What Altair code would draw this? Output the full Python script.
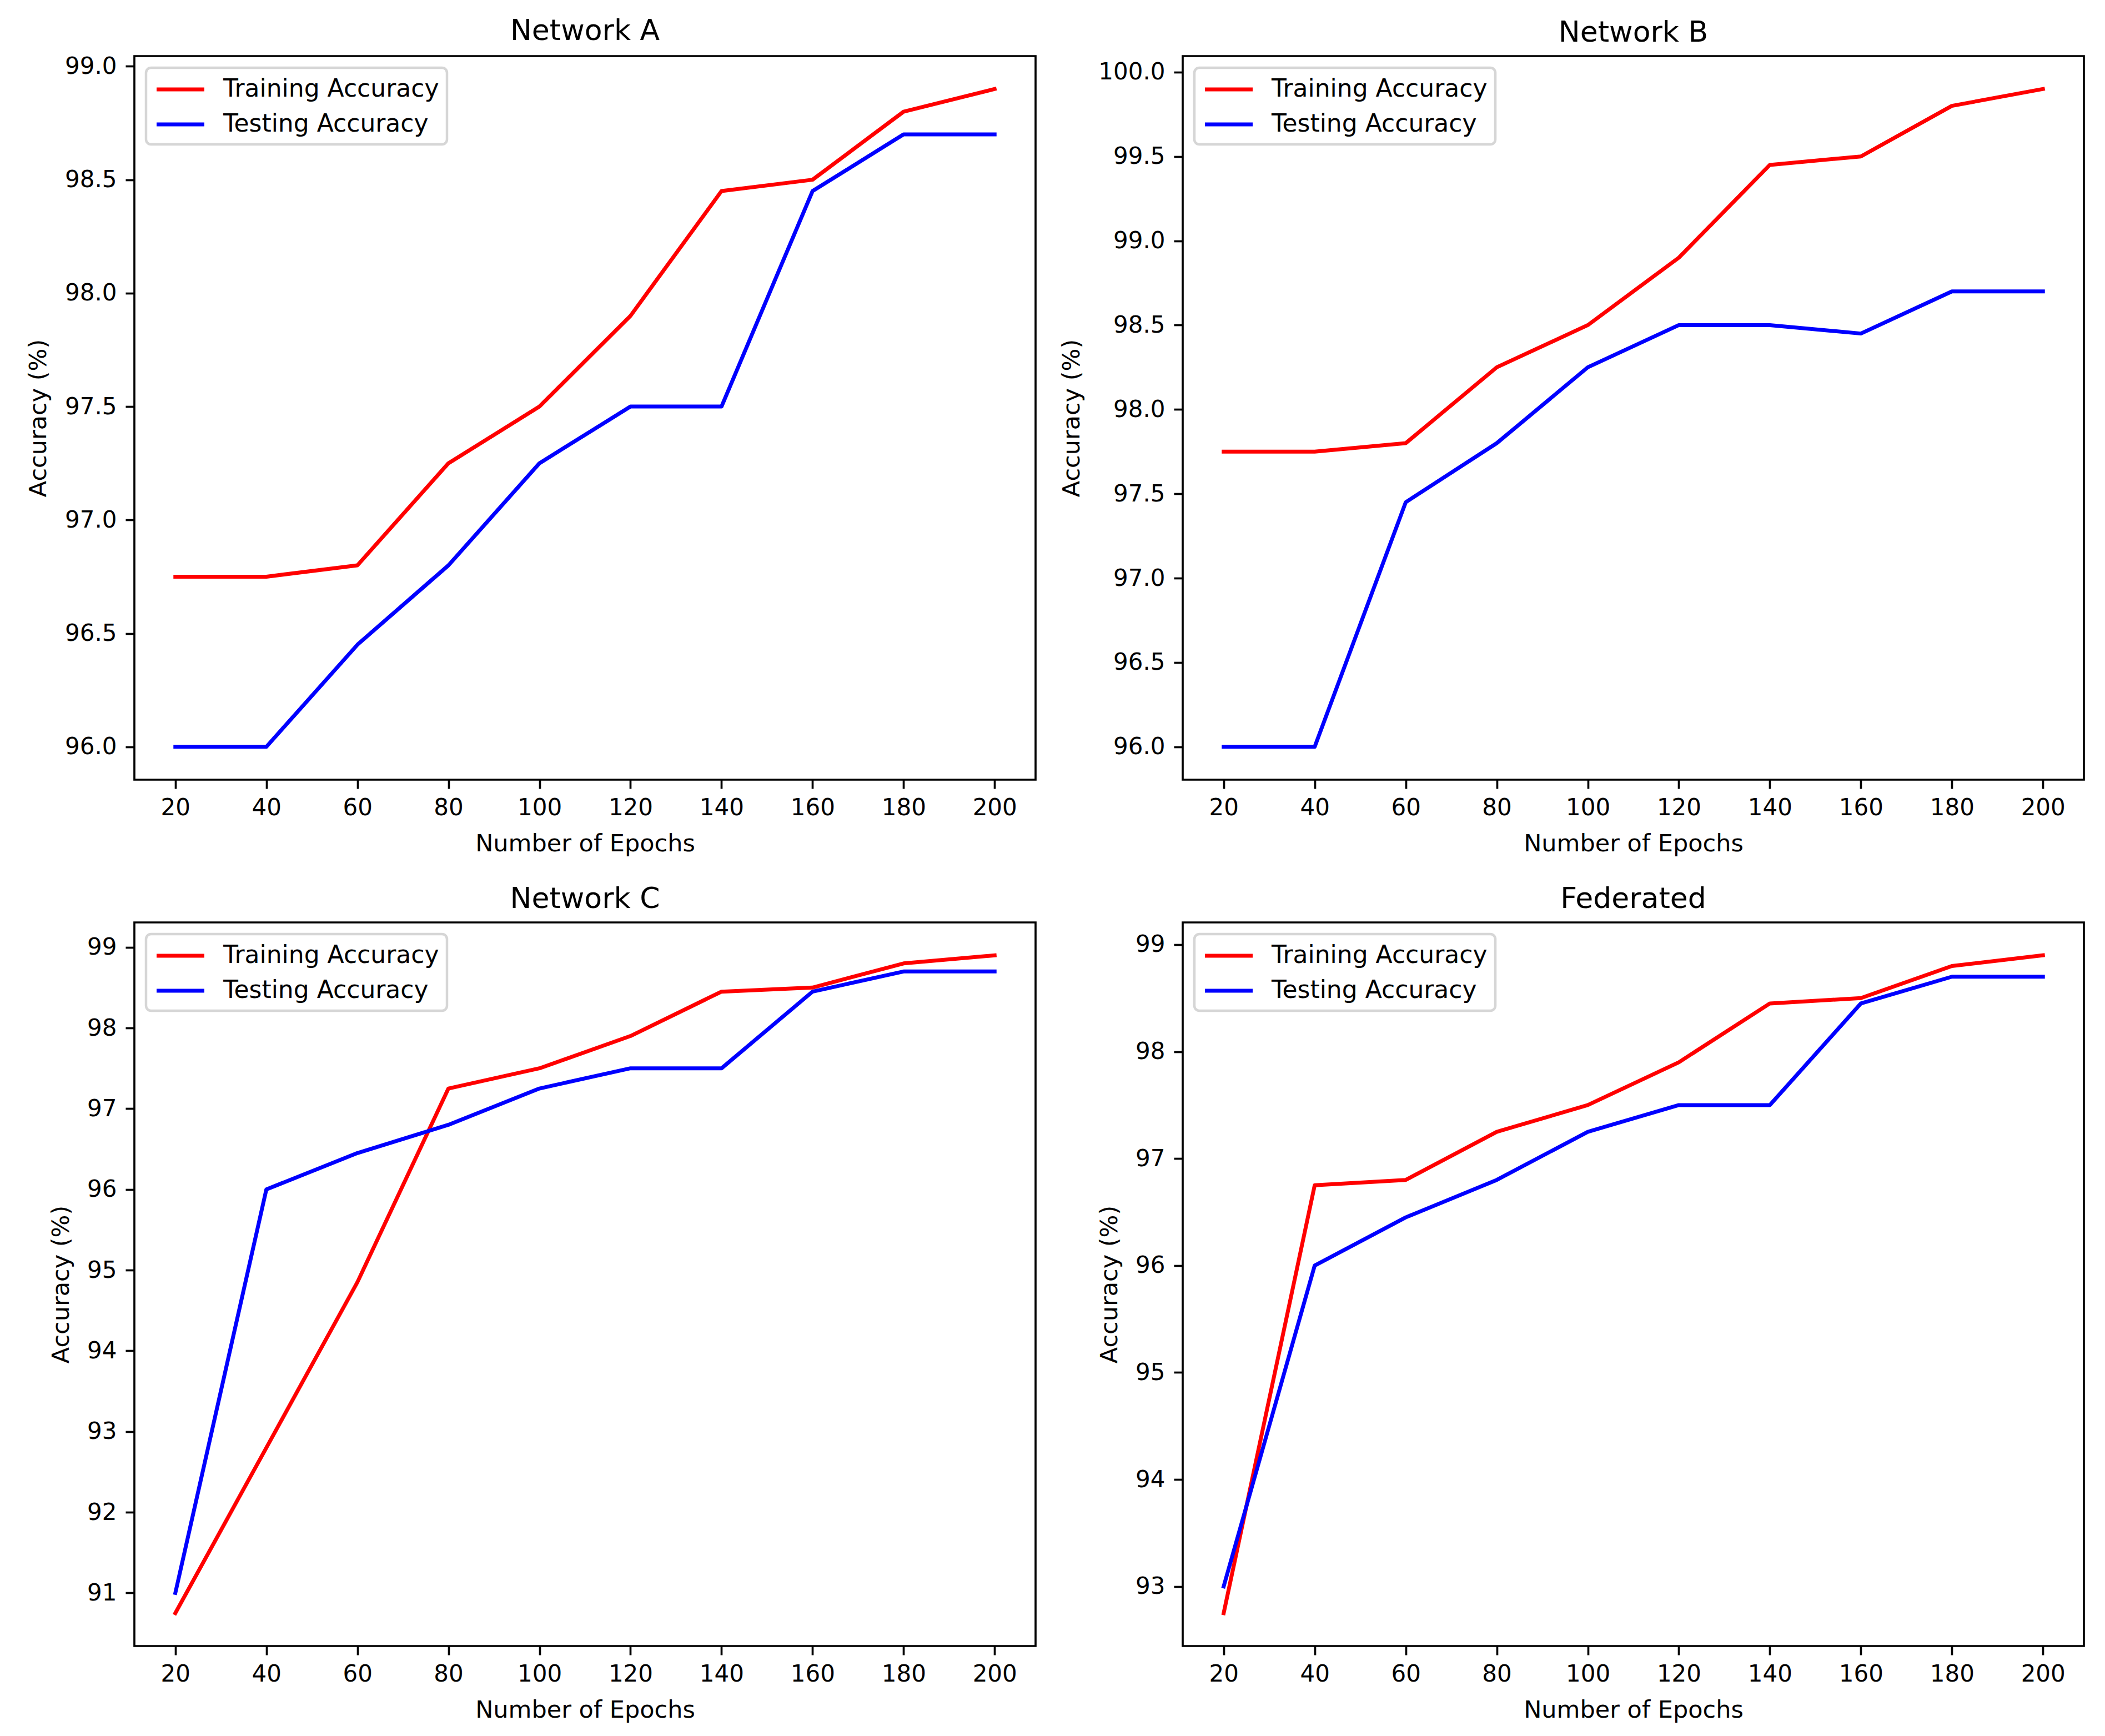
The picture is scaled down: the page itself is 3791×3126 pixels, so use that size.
import altair as alt
import pandas as pd

# ---- data ----
epochs = [20, 40, 60, 80, 100, 120, 140, 160, 180, 200]

a_train = [96.75, 96.75, 96.80, 97.25, 97.50, 97.90, 98.45, 98.50, 98.80, 98.90]
a_test = [96.00, 96.00, 96.45, 96.80, 97.25, 97.50, 97.50, 98.45, 98.70, 98.70]

b_train = [97.75, 97.75, 97.80, 98.25, 98.50, 98.90, 99.45, 99.50, 99.80, 99.90]
b_test = [96.00, 96.00, 97.45, 97.80, 98.25, 98.50, 98.50, 98.45, 98.70, 98.70]

c_train = [90.75, 92.80, 94.85, 97.25, 97.50, 97.90, 98.45, 98.50, 98.80, 98.90]
c_test = [91.00, 96.00, 96.45, 96.80, 97.25, 97.50, 97.50, 98.45, 98.70, 98.70]

f_train = [92.75, 96.75, 96.80, 97.25, 97.50, 97.90, 98.45, 98.50, 98.80, 98.90]
f_test = [93.00, 96.00, 96.45, 96.80, 97.25, 97.50, 97.50, 98.45, 98.70, 98.70]

titles = ["Network A", "Network B", "Network C", "Federated"]
series_names = ["Training Accuracy", "Testing Accuracy"]
series_colors = ["#ff0000", "#0000ff"]

y_ticks_a = [96.0, 96.5, 97.0, 97.5, 98.0, 98.5, 99.0]
y_ticks_b = [96.0, 96.5, 97.0, 97.5, 98.0, 98.5, 99.0, 99.5, 100.0]
y_ticks_c = [91, 92, 93, 94, 95, 96, 97, 98, 99]
y_ticks_f = [93, 94, 95, 96, 97, 98, 99]

W, H = 1623, 1303
FONT = "DejaVu Sans"


def padded(vals, frac=0.05):
    lo, hi = min(vals), max(vals)
    p = (hi - lo) * frac
    return [lo - p, hi + p]


def panel(title, train, test, ticks, fmt, ytitle_x):
    df = pd.DataFrame({
        "epoch": epochs + epochs,
        "acc": train + test,
        "series": [series_names[0]] * len(epochs) + [series_names[1]] * len(epochs),
    })
    return alt.Chart(df).mark_line(
        strokeWidth=7, strokeCap="square", strokeJoin="round"
    ).encode(
        x=alt.X("epoch:Q",
                scale=alt.Scale(domain=padded(epochs), nice=False, zero=False),
                axis=alt.Axis(values=epochs, format="d", title="Number of Epochs",
                              titleX=W / 2, titleY=94, titleBaseline="top",
                              titleAlign="center", labelPadding=14.4)),
        y=alt.Y("acc:Q",
                scale=alt.Scale(domain=padded(train + test), nice=False, zero=False),
                axis=alt.Axis(values=ticks, format=fmt, title="Accuracy (%)",
                              titleX=-ytitle_x, titleY=H / 2, titleAngle=270,
                              titleBaseline="bottom", titleAlign="center",
                              labelPadding=16)),
        color=alt.Color("series:N",
                        scale=alt.Scale(domain=series_names, range=series_colors),
                        legend=alt.Legend(title=None, orient="top-left", offset=21,
                                          symbolType="M-0.93,0L3.07,0",
                                          symbolSize=43 * 43, symbolStrokeWidth=7,
                                          labelOffset=75, rowPadding=16, padding=14)),
    ).properties(
        width=W, height=H,
        title=alt.TitleParams(title, fontSize=52, fontWeight="normal", frame="group",
                              offset=15, anchor="middle", color="black", font=FONT),
    )


pa = panel(titles[0], a_train, a_test, y_ticks_a, ".1f", 151)
pb = panel(titles[1], b_train, b_test, y_ticks_b, ".1f", 178)
pc = panel(titles[2], c_train, c_test, y_ticks_c, "d", 110)
pf = panel(titles[3], f_train, f_test, y_ticks_f, "d", 110)

chart = alt.concat(
    pa, pb, pc, pf, columns=2, spacing={"row": 257, "column": 265}, bounds="flush"
).resolve_scale(
    color="independent"
).resolve_legend(
    color="independent"
).properties(
    padding={"left": 38, "top": 20, "right": 5, "bottom": 5},
    background="white",
).configure(
    font=FONT
).configure_view(
    stroke="black", strokeWidth=3.66
).configure_axis(
    grid=False, domain=False, tickSize=16, tickWidth=3.66, tickColor="black",
    labelFontSize=42, labelColor="black", labelFont=FONT,
    titleFontSize=43, titleFontWeight="normal", titleColor="black", titleFont=FONT,
    labelFlush=False, labelOverlap=False,
).configure_legend(
    strokeColor="#d6d6d6", fillColor="white", cornerRadius=9, strokeWidth=4.5,
    labelFontSize=44, labelColor="black", labelFont=FONT, labelLimit=2000,
)

chart.save("out.html", embed_options={"renderer": "svg", "actions": False})
